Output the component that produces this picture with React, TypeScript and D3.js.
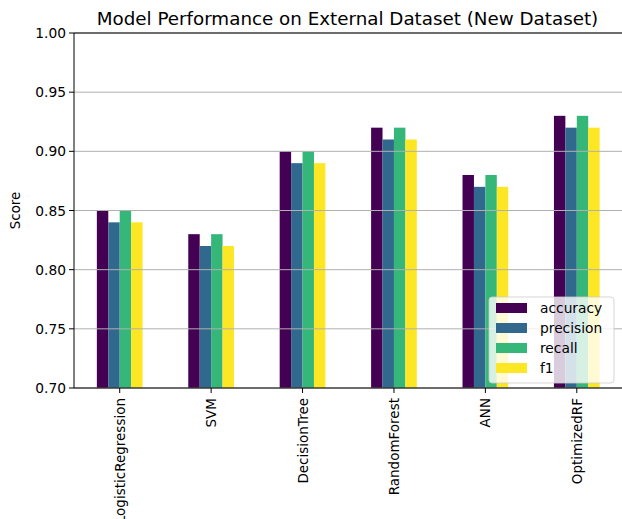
import React from "react";
import * as d3 from "d3";

const models = ["LogisticRegression", "SVM", "DecisionTree", "RandomForest", "ANN", "OptimizedRF"];
const metrics = ["accuracy", "precision", "recall", "f1"];
const accuracy = [0.85, 0.83, 0.9, 0.92, 0.88, 0.93];
const precision = [0.84, 0.82, 0.89, 0.91, 0.87, 0.92];
const recall = [0.85, 0.83, 0.9, 0.92, 0.88, 0.93];
const f1 = [0.84, 0.82, 0.89, 0.91, 0.87, 0.92];
const yTicks = [0.7, 0.75, 0.8, 0.85, 0.9, 0.95, 1.0];
const colors = ["#440154", "#31688e", "#35b779", "#fde725"];

const W = 622;
const H = 519;
const left = 74;
const right = 622.5;
const top = 33;
const bottom = 388;
const font = "DejaVu Sans, sans-serif";

export default function App() {
  const series = [accuracy, precision, recall, f1];
  const x = d3.scaleBand<string>().domain(models).range([left, right]).paddingInner(0).paddingOuter(0);
  const inner = d3.scaleBand<string>().domain(metrics).range([0, x.bandwidth() * 0.5]);
  const offset = x.bandwidth() * 0.25;
  const y = d3.scaleLinear().domain([0.7, 1.0]).range([bottom, top]);

  return (
    <svg width={W} height={H} style={{ position: "absolute", left: 0, top: 0, background: "#fff" }} fontFamily={font}>
      {/* bars */}
      {models.map((m, i) => (
        <g key={m}>
          {metrics.map((k, j) => (
            <rect
              key={k}
              x={(x(m) as number) + offset + (inner(k) as number)}
              y={y(series[j][i])}
              width={inner.bandwidth()}
              height={y(0.7) - y(series[j][i])}
              fill={colors[j]}
            />
          ))}
        </g>
      ))}
      {/* horizontal grid drawn over the bars */}
      {yTicks.map((t) => (
        <line key={t} x1={left} x2={right} y1={y(t)} y2={y(t)} stroke="#b0b0b0" strokeWidth={1} />
      ))}
      {/* spines */}
      <line x1={left} x2={left} y1={top} y2={bottom} stroke="#000" strokeWidth={1} />
      <line x1={left} x2={right} y1={top} y2={top} stroke="#000" strokeWidth={1} />
      <line x1={left} x2={right} y1={bottom} y2={bottom} stroke="#000" strokeWidth={1} />
      {/* y ticks */}
      {yTicks.map((t) => (
        <g key={t}>
          <line x1={left - 5} x2={left} y1={y(t)} y2={y(t)} stroke="#000" />
          <text x={left - 8} y={y(t)} textAnchor="end" dominantBaseline="central" fontSize={13.8} fill="#000">
            {d3.format(".2f")(t)}
          </text>
        </g>
      ))}
      {/* x ticks */}
      {models.map((m) => {
        const cx = (x(m) as number) + x.bandwidth() / 2;
        return (
          <g key={m}>
            <line x1={cx} x2={cx} y1={bottom} y2={bottom + 5} stroke="#000" />
            <text
              transform={`translate(${cx},${bottom + 10}) rotate(-90)`}
              textAnchor="end"
              dominantBaseline="central"
              fontSize={13.5}
              fill="#000"
            >
              {m}
            </text>
          </g>
        );
      })}
      <text transform={`translate(15,${(top + bottom) / 2}) rotate(-90)`} textAnchor="middle" dominantBaseline="central" fontSize={13.3}>
        Score
      </text>
      <text x={347.5} y={25} textAnchor="middle" fontSize={18.3} fill="#000">
        Model Performance on External Dataset (New Dataset)
      </text>
      {/* legend */}
      <g transform="translate(489,297)">
        <rect x={0} y={0} width={125} height={86} rx={3} fill="#fff" fillOpacity={0.8} stroke="#cccccc" strokeOpacity={0.8} />
        {metrics.map((k, j) => (
          <g key={k} transform={`translate(0,${11 + j * 20})`}>
            <rect x={7} y={-5} width={31} height={10} fill={colors[j]} />
            <text x={51} y={0} dominantBaseline="central" fontSize={13.8} fill="#000">
              {k}
            </text>
          </g>
        ))}
      </g>
    </svg>
  );
}
